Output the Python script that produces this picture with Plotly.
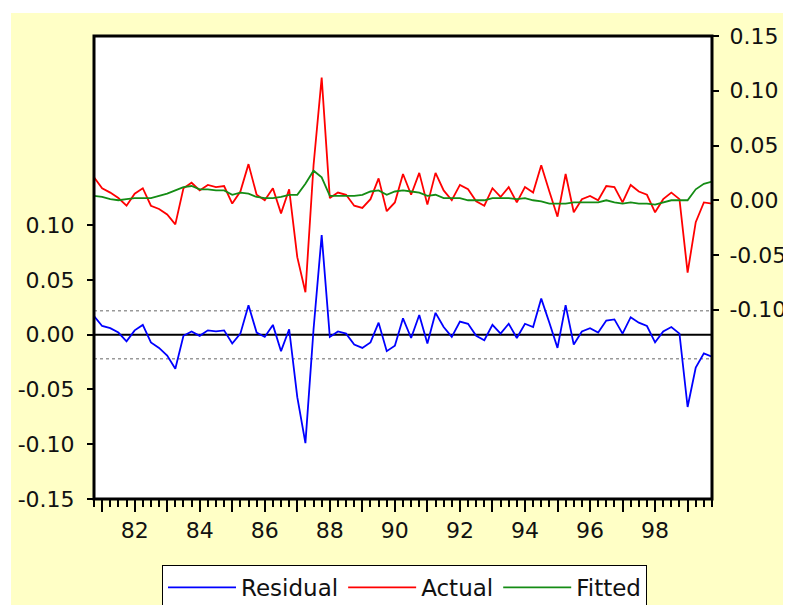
import pandas as pd
import plotly.graph_objects as go

# ---- data (quarterly, 1980Q4 - 1999Q4) ----
periods = pd.period_range("1980Q4", "1999Q4", freq="Q")
x_years = [p.year + (p.quarter - 1) / 4 for p in periods]

residual = [0.017, 0.008, 0.006, 0.002, -0.006, 0.004, 0.009, -0.007, -0.012, -0.019,
            -0.031, -0.001, 0.003, -0.001, 0.004, 0.003, 0.004, -0.008, 0.001, 0.027,
            0.002, -0.002, 0.009, -0.015, 0.005, -0.057, -0.099, 0.005, 0.091, -0.002,
            0.003, 0.001, -0.009, -0.012, -0.007, 0.011, -0.015, -0.010, 0.015, -0.003,
            0.018, -0.008, 0.020, 0.007, -0.002, 0.012, 0.010, -0.001, -0.005, 0.009,
            0.001, 0.010, -0.003, 0.010, 0.007, 0.033, 0.011, -0.012, 0.027, -0.009,
            0.003, 0.006, 0.002, 0.013, 0.014, 0.001, 0.016, 0.011, 0.008, -0.007,
            0.003, 0.007, 0.001, -0.066, -0.030, -0.017, -0.020]

fitted = [0.004, 0.003, 0.001, 0.000, 0.001, 0.002, 0.002, 0.002, 0.004, 0.006,
          0.009, 0.012, 0.013, 0.010, 0.010, 0.009, 0.009, 0.005, 0.007, 0.006,
          0.003, 0.002, 0.002, 0.003, 0.005, 0.005, 0.015, 0.027, 0.021, 0.004,
          0.004, 0.004, 0.004, 0.005, 0.008, 0.009, 0.005, 0.008, 0.009, 0.008,
          0.007, 0.004, 0.005, 0.002, 0.002, 0.002, 0.000, 0.000, 0.000, 0.002,
          0.002, 0.002, 0.001, 0.002, 0.000, -0.001, -0.003, -0.003, -0.003, -0.002,
          -0.002, -0.002, -0.002, 0.000, -0.002, -0.003, -0.002, -0.003, -0.003, -0.004,
          -0.002, 0.000, 0.000, 0.000, 0.010, 0.015, 0.017]

actual = [0.021, 0.011, 0.007, 0.002, -0.005, 0.006, 0.011, -0.005, -0.008, -0.013,
          -0.022, 0.011, 0.016, 0.009, 0.014, 0.012, 0.013, -0.003, 0.008, 0.033,
          0.005, 0.000, 0.011, -0.012, 0.010, -0.052, -0.084, 0.032, 0.112, 0.002,
          0.007, 0.005, -0.005, -0.007, 0.001, 0.020, -0.010, -0.002, 0.024, 0.005,
          0.025, -0.004, 0.025, 0.009, 0.000, 0.014, 0.010, -0.001, -0.005, 0.011,
          0.003, 0.012, -0.002, 0.012, 0.007, 0.032, 0.008, -0.015, 0.024, -0.011,
          0.001, 0.004, 0.000, 0.013, 0.012, -0.002, 0.014, 0.008, 0.005, -0.011,
          0.001, 0.007, 0.001, -0.066, -0.020, -0.002, -0.003]

resid_se = 0.022

year_ticks = list(range(1981, 2000))
year_labels = [str(y)[2:] if y % 2 == 0 else "" for y in year_ticks]

left_ticks = [-0.15, -0.10, -0.05, 0.00, 0.05, 0.10]
left_labels = ["-0.15", "-0.10", "-0.05", "0.00", "0.05", "0.10"]
right_ticks = [-0.10, -0.05, 0.00, 0.05, 0.10, 0.15]
right_labels = ["-0.10", "-0.05", "0.00", "0.05", "0.10", "0.15"]

# ---- layout geometry (figure is placed at page offset 8,8 by the html body) ----
W, H = 783, 597
ML, MR, MT, MB = 86, 79, 28, 106
PW, PH = W - ML - MR, H - MT - MB


def px_to_paper(xp, yp):
    return (xp - ML) / PW, 1 - (yp - MT) / PH


# yellow panel (starts at page 11,13 -> figure 3,5)
bx0, by0 = px_to_paper(3, 5)
bx1, by1 = px_to_paper(W, H)

FONT = "DejaVu Sans, Liberation Sans, Arial, sans-serif"
fig = go.Figure()
fig.add_trace(go.Scatter(x=x_years, y=residual, name="Residual", mode="lines",
                         line=dict(color="#0000FF", width=1.8), yaxis="y"))
fig.add_trace(go.Scatter(x=x_years, y=actual, name="Actual", mode="lines",
                         line=dict(color="#FF0000", width=1.8), yaxis="y2"))
fig.add_trace(go.Scatter(x=x_years, y=fitted, name="Fitted", mode="lines",
                         line=dict(color="#148C14", width=1.8), yaxis="y2"))

# background panel + white plotting area
fig.add_shape(type="rect", xref="paper", yref="paper", x0=bx0, x1=bx1, y0=by1, y1=by0,
              fillcolor="#FFFFC6", line=dict(width=0), layer="below")
fig.add_shape(type="rect", xref="paper", yref="paper", x0=0, x1=1, y0=0, y1=1,
              fillcolor="white", line=dict(width=0), layer="below")

# +/- 1 S.E. dotted bands and zero line for residuals
for v in (resid_se, -resid_se):
    fig.add_shape(type="line", xref="paper", x0=0, x1=1, yref="y", y0=v, y1=v,
                  line=dict(color="#999999", width=1.5, dash="dot"), layer="below")
fig.add_shape(type="line", xref="paper", x0=0, x1=1, yref="y", y0=0, y1=0,
              line=dict(color="black", width=2), layer="below")

# frame
fig.add_shape(type="rect", xref="paper", yref="paper", x0=0, x1=1, y0=0, y1=1,
              line=dict(color="black", width=3))

span = 0.2728
leg_x, leg_y = px_to_paper(404.5 - 8, 565 - 8)
fig.update_layout(
    width=W, height=H,
    margin=dict(l=ML, r=MR, t=MT, b=MB, autoexpand=False),
    paper_bgcolor="white",
    plot_bgcolor="white",
    font=dict(family=FONT, size=22, color="#111111"),
    showlegend=True,
    legend=dict(orientation="h", x=leg_x, xanchor="center", y=leg_y, yanchor="top",
                bgcolor="white", bordercolor="black", borderwidth=1,
                font=dict(size=23), itemwidth=68, traceorder="normal"),
    xaxis=dict(range=[1980.75, 1999.75], showgrid=False, zeroline=False,
               tickvals=year_ticks, ticktext=year_labels, ticks="outside",
               ticklen=12, tickwidth=1.5, tickcolor="black", automargin=False,
               minor=dict(dtick=0.25, tick0=1981, ticks="outside", ticklen=7,
                          tickwidth=1.5, tickcolor="black", showgrid=False)),
    yaxis=dict(range=[-0.15, span], showgrid=False, zeroline=False,
               tickvals=left_ticks, ticktext=left_labels, ticks="outside",
               ticklen=6, tickwidth=1.5, tickcolor="black", automargin=False,
               ticklabelstandoff=8),
    yaxis2=dict(range=[-span, 0.15], overlaying="y", side="right", showgrid=False,
                zeroline=False, tickvals=right_ticks, ticktext=right_labels,
                ticks="outside", ticklen=6, tickwidth=1.5, tickcolor="black",
                automargin=False, ticklabelstandoff=6),
)

fig.write_html("out.html")
